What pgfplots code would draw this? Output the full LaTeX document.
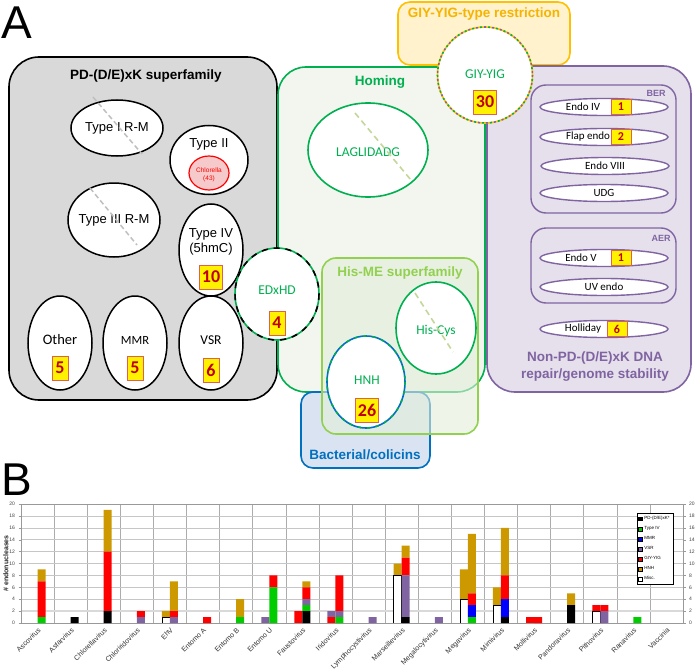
\documentclass[border=0pt]{standalone}
\usepackage{pgfplots}
\pgfplotsset{compat=1.18}
\usepackage{pgfplotstable}
\usepackage{fontspec}
\setmainfont{Liberation Sans}
\newfontfamily\calibri{Carlito}

\definecolor{greyfill}{HTML}{D9D9D9}
\definecolor{homfill}{HTML}{F2F6EE}
\definecolor{homline}{HTML}{00B050}
\definecolor{hisfill}{HTML}{E2EFD9}
\definecolor{hisline}{HTML}{92D050}
\definecolor{bacfill}{HTML}{DAE3F1}
\definecolor{bacline}{HTML}{0070C0}
\definecolor{giyfill}{HTML}{FFF2CC}
\definecolor{giyline}{HTML}{FFC000}
\definecolor{giytext}{HTML}{F5B400}
\definecolor{purfill}{HTML}{E5E0EC}
\definecolor{purline}{HTML}{8064A2}
\definecolor{numred}{HTML}{C00000}
\definecolor{numbord}{HTML}{E0604A}
\definecolor{chlfill}{HTML}{F6CACA}
\definecolor{dashgrey}{HTML}{BFBFBF}
\definecolor{dashgreen}{HTML}{C4D79B}
\definecolor{cPD}{HTML}{000000}
\definecolor{cIV}{HTML}{00CC00}
\definecolor{cMMR}{HTML}{0000FF}
\definecolor{cVSR}{HTML}{8064A2}
\definecolor{cGIY}{HTML}{FF0000}
\definecolor{cHNH}{HTML}{CC9900}

\pgfplotstableread{
x pd iv mmr vsr giy hnh
0 0 1 0 0 6 2
1 1 0 0 0 0 0
2 2 0 0 0 10 7
3 0 0 0 1 1 0
4 0 0 0 1 1 5
5 0 0 0 0 1 0
6 0 1 0 0 0 3
7 0 6 0 0 2 0
8 2 1 0 1 2 1
9 0 1 0 1 6 0
10 0 0 0 1 0 0
11 1 0 0 7 3 2
12 0 0 0 1 0 0
13 0 1 2 0 2 10
14 1 0 3 0 4 8
15 0 0 0 0 1 0
16 3 0 0 0 0 2
17 0 0 0 2 1 0
18 0 1 0 0 0 0
19 0 0 0 0 0 0
}\rightdata

\pgfplotstableread{
x misc giy vsr hnh
4 1 0 0 1
7 0 0 1 0
8 0 2 0 0
9 0 1 1 0
11 8 0 0 2
13 4 0 0 5
14 3 0 0 3
15 0 1 0 0
17 2 1 0 0
}\leftdata

\tikzset{
 nb/.style={draw=numbord, fill=yellow, line width=0.9pt, inner xsep=2.2pt, inner ysep=0pt,
   minimum width=16pt, minimum height=24pt, text=numred, font=\calibri\bfseries\fontsize{18}{18}\selectfont},
 nbs/.style={draw=numbord, fill=yellow, line width=0.8pt, inner sep=0pt,
   minimum width=20pt, minimum height=14.5pt, text=numred, font=\calibri\bfseries\fontsize{12}{12}\selectfont},
 wel/.style={draw=black, line width=1.5pt, fill=white},
 pel/.style={draw=purline, line width=1.4pt, fill=white},
 head/.style={font=\bfseries\fontsize{13.5}{15}\selectfont},
 arl/.style={font=\fontsize{13}{15}\selectfont},
 cal/.style={font=\calibri\fontsize{13.5}{15}\selectfont},
 cals/.style={font=\calibri\fontsize{11}{12}\selectfont},
}

\pgfplotsset{
 bstyle/.style={
  at={(21pt,-623pt)}, anchor=south west, scale only axis, width=662pt, height=119pt,
  xmin=-0.5, xmax=19.5, ymin=0, ymax=20, ybar stacked, bar width=8pt,
  ytick={0,2,...,20}, tick align=outside, major tick length=2.5pt,
  axis line style={draw=gray!80, line width=0.5pt},
  yticklabel style={font=\fontsize{5}{5}\selectfont, text=black!75},
  ytick style={draw=gray!80, line width=0.4pt},
  /pgf/number format/assume math mode=true,
 }
}

\begin{document}
\begin{tikzpicture}
\path[use as bounding box] (0,0) rectangle (696pt,-669pt);
\begin{scope}[x=1pt,y=-1pt]
% ---- big boxes
\draw[line width=1.6pt, fill=greyfill, rounded corners=30pt] (9,57) rectangle (277,400);
\node[head] at (146,76) {PD-(D/E)xK superfamily};
\draw[homline, line width=1.6pt, fill=homfill, rounded corners=28pt] (278,67) rectangle (485,392);
\node[head, text=homline] at (380,82) {Homing};
\draw[giyline, line width=1.6pt, fill=giyfill, rounded corners=12pt] (398,2) rectangle (570,65);
\node[head, text=giytext] at (484,14) {GIY-YIG-type restriction};
\draw[purline, line width=1.6pt, fill=purfill, rounded corners=28pt] (487,66) rectangle (691,392);
\draw[purline, line width=1.4pt, rounded corners=15pt] (531,85) rectangle (676,213);
\draw[purline, line width=1.4pt, rounded corners=15pt] (531,228) rectangle (676,303);
\node[font=\bfseries\fontsize{9}{10}\selectfont, text=purline] at (656,93) {BER};
\node[font=\bfseries\fontsize{9}{10}\selectfont, text=purline] at (661,238) {AER};
\node[head, text=purline] at (595,358) {Non-PD-(D/E)xK DNA};
\node[head, text=purline] at (595,375) {repair/genome stability};
\draw[bacline, line width=1.6pt, fill=bacfill, rounded corners=12pt] (301,392) rectangle (430,468);
\node[head, text=bacline] at (365,455) {Bacterial/colicins};
\draw[hisline, line width=1.6pt, fill=hisfill, fill opacity=0.6, rounded corners=14pt] (322,258) rectangle (478,434);
\node[head, text=hisline] at (400,273) {His-ME superfamily};
% ---- PD-(D/E)xK ellipses
\draw[wel] (117,128) ellipse [x radius=46, y radius=28];
\node[arl] at (117,128) {Type I R-M};
\draw[dashgrey, line width=1.5pt, dash pattern=on 5pt off 3pt] (93,97) -- (142,154);
\draw[wel] (114,220) ellipse [x radius=46, y radius=37];
\node[arl] at (114,220) {Type III R-M};
\draw[dashgrey, line width=1.5pt, dash pattern=on 5pt off 3pt] (90,188) -- (137,245);
\draw[wel] (209,160) ellipse [x radius=39, y radius=34.5];
\node[arl] at (209,144) {Type II};
\draw[draw=red, line width=1.2pt, fill=chlfill] (209,173) ellipse [x radius=20, y radius=17];
\node[font=\fontsize{6.5}{7.5}\selectfont, text=red, align=center] at (209,175) {Chlorella\\(43)};
\draw[wel] (211,250) ellipse [x radius=32, y radius=46];
\node[arl, align=center] at (211,242) {Type IV\\(5hmC)};
\node[nb] at (211,277) {10};
\draw[wel] (60,343) ellipse [x radius=32, y radius=47];
\node[cal, font=\calibri\fontsize{14.5}{15}\selectfont] at (60,340) {Other};
\node[nb] at (60,368) {5};
\draw[wel] (135,343) ellipse [x radius=32, y radius=47];
\node[cal, font=\calibri\fontsize{12.5}{15}\selectfont] at (135,340) {MMR};
\node[nb] at (135,368) {5};
\draw[wel] (211,343) ellipse [x radius=32, y radius=47];
\node[cal, font=\calibri\fontsize{13.5}{15}\selectfont] at (211,340) {VSR};
\node[nb] at (211,370) {6};
% EDxHD
\draw[homline, line width=1.6pt, fill=white] (277,294) ellipse [x radius=42, y radius=46];
\draw[black, line width=1.6pt, dash pattern=on 6pt off 6pt] (277,294) ellipse [x radius=42, y radius=46];
\node[cal, text=homline] at (277,290) {EDxHD};
\node[nb] at (277,323) {4};
% LAGLIDADG
\draw[homline, line width=1.6pt, fill=white] (368,150) ellipse [x radius=60, y radius=47];
\node[cal, text=homline] at (368,152) {LAGLIDADG};
\draw[dashgreen, line width=1.6pt, dash pattern=on 6pt off 4pt] (355,113) -- (411,180);
% His-Cys
\draw[homline, line width=1.6pt, fill=white] (436,328) ellipse [x radius=40, y radius=46];
\node[cal, text=homline] at (436,331) {His-Cys};
\draw[dashgreen, line width=1.6pt, dash pattern=on 6pt off 4pt] (415,293) -- (453,352);
% HNH
\draw[bacline, line width=1.6pt, fill=white] (366,382) ellipse [x radius=39, y radius=46];
\draw[homline, line width=1.6pt, dash pattern=on 3pt off 6pt] (366,382) ellipse [x radius=39, y radius=46];
\node[cal, text=homline] at (367,380) {HNH};
\node[nb] at (367,410) {26};
% GIY-YIG
\draw[giyline, line width=1.6pt, fill=white] (485,75) ellipse [x radius=47.5, y radius=48];
\draw[purline, line width=1.6pt, dash pattern=on 2pt off 6pt] (485,75) ellipse [x radius=47.5, y radius=48];
\draw[homline, line width=1.6pt, dash pattern=on 2pt off 6pt, dash phase=4pt] (485,75) ellipse [x radius=47.5, y radius=48];
\node[cal, text=homline] at (485,74) {GIY-YIG};
\node[nb] at (485,102) {30};
% purple ellipses
\draw[pel] (604,107) ellipse [x radius=64, y radius=8.5];
\node[cals] at (583,107) {Endo IV};
\node[nbs] at (621,107) {1};
\draw[pel] (604,137) ellipse [x radius=64, y radius=8.5];
\node[cals] at (588,137) {Flap endo};
\node[nbs] at (621,137) {2};
\draw[pel] (605,166) ellipse [x radius=64, y radius=8.5];
\node[cals] at (605,166) {Endo VIII};
\draw[pel] (604,193) ellipse [x radius=64, y radius=8.5];
\node[cals] at (604,193) {UDG};
\draw[pel] (604,258) ellipse [x radius=64, y radius=8.5];
\node[cals] at (581,258) {Endo V};
\node[nbs] at (621,258) {1};
\draw[pel] (604,287) ellipse [x radius=64, y radius=8.5];
\node[cals] at (604,287) {UV endo};
\draw[pel] (604,329) ellipse [x radius=64, y radius=8.5];
\node[cals] at (583,329) {Holliday};
\node[nbs] at (617,329) {6};
% panel letters
\node[anchor=north west, inner sep=0pt, font=\fontsize{46}{46}\selectfont] at (1,7) {A};
\node[anchor=north west, inner sep=0pt, font=\fontsize{46}{46}\selectfont] at (1,464) {B};
\end{scope}

% ---- panel B: left stacks
\begin{axis}[bstyle,
  xtick={0,...,19},
  xticklabels={Ascovirus, Asfarvirus, Chlorellavirus, Chloriridovirus, EhV, Entomo A, Entomo B, Entomo U, Faustovirus, Iridovirus, Lymphocystivirus, Marseillevirus, Megalocytivirus, Megavirus, Mimivirus, Mollivirus, Pandoravirus, Pithovirus, Ranavirus, Vaccinia},
  minor xtick={-0.5,0.5,...,19.5},
  xminorgrids=true, ymajorgrids=true,
  major grid style={gray!45, line width=0.5pt},
  minor grid style={gray!65, line width=0.6pt},
  x tick style={draw=none},
  xticklabel style={rotate=45, anchor=north east, inner sep=1pt, font=\fontsize{7.1}{7.1}\selectfont, text=black!80},
  ytick pos=left,
  ylabel={\# endonucleases},
  ylabel style={font=\bfseries\fontsize{7}{7}\selectfont, text=black!85,
    at={(axis description cs:-0.023,0.5)}, anchor=center},
  extra y ticks={2}, extra y tick labels={},
  extra y tick style={major grid style={gray!30, line width=2.2pt}},
]
\addplot[fill=white, draw=black, line width=0.6pt] table[x expr=\thisrow{x}-0.1208, y=misc] {\leftdata};
\addplot[fill=cGIY, draw=none] table[x expr=\thisrow{x}-0.1208, y=giy] {\leftdata};
\addplot[fill=cVSR, draw=none] table[x expr=\thisrow{x}-0.1208, y=vsr] {\leftdata};
\addplot[fill=cHNH, draw=none] table[x expr=\thisrow{x}-0.1208, y=hnh] {\leftdata};
\end{axis}

% ---- panel B: right stacks + legend
\begin{axis}[bstyle,
  xtick=\empty, ytick pos=right, yticklabel pos=right,
  legend style={at={(0.985,0.924)}, anchor=north east, font=\fontsize{4.5}{5}\selectfont,
    draw=black, line width=0.5pt, inner sep=1.2pt, row sep=1.4pt, cells={anchor=west}, fill=white},
  every axis plot post/.append style={legend image code/.code={\draw[##1] (0pt,-1.8pt) rectangle (3.6pt,1.8pt);}},
]
\addplot[fill=cPD, draw=none] table[x expr=\thisrow{x}+0.1208, y=pd] {\rightdata};
\addlegendentry{PD-(D/E)xK*}
\addplot[fill=cIV, draw=none] table[x expr=\thisrow{x}+0.1208, y=iv] {\rightdata};
\addlegendentry{Type IV}
\addplot[fill=cMMR, draw=none] table[x expr=\thisrow{x}+0.1208, y=mmr] {\rightdata};
\addlegendentry{MMR}
\addplot[fill=cVSR, draw=none] table[x expr=\thisrow{x}+0.1208, y=vsr] {\rightdata};
\addlegendentry{VSR}
\addplot[fill=cGIY, draw=none] table[x expr=\thisrow{x}+0.1208, y=giy] {\rightdata};
\addlegendentry{GIY-YIG}
\addplot[fill=cHNH, draw=none] table[x expr=\thisrow{x}+0.1208, y=hnh] {\rightdata};
\addlegendentry{HNH}
\addlegendimage{fill=white, draw=black, line width=0.6pt}
\addlegendentry{Misc.}
\end{axis}
\end{tikzpicture}
\end{document}
